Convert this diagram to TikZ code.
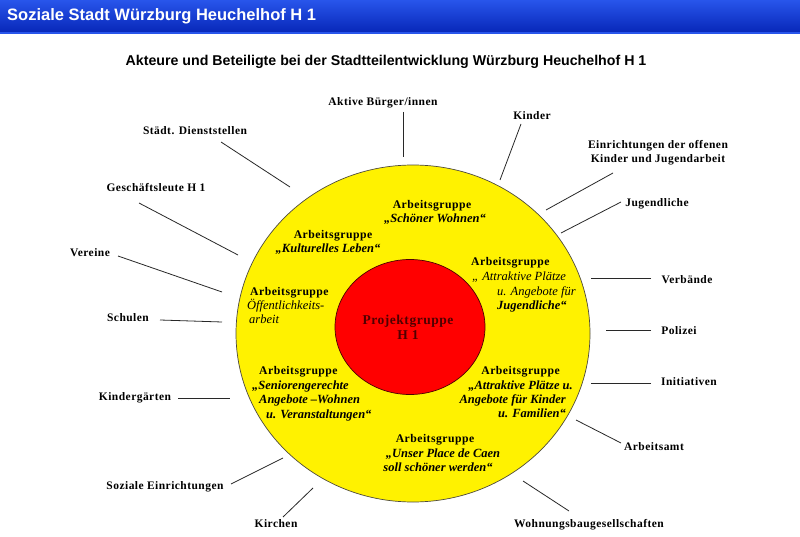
\documentclass[tikz,border=0pt]{standalone}
\usepackage{fontspec}
\usetikzlibrary{shapes.geometric}
\setmainfont{Liberation Serif}
\newfontfamily\arialfont{Liberation Sans}
\newfontfamily\labfont[LetterSpace=4]{Liberation Serif}
\definecolor{bartop}{RGB}{40,85,235}
\definecolor{barbot}{RGB}{8,40,185}
\definecolor{dkred}{RGB}{80,0,0}
\definecolor{spoke}{RGB}{40,40,40}
\tikzset{
  lab/.style={font=\labfont\fontsize{11.5}{13}\selectfont\bfseries, inner sep=0pt, text height=8pt, text depth=2.5pt},
  ag/.style={font=\labfont\fontsize{11.7}{13}\selectfont\bfseries, inner sep=0pt, text height=8pt, text depth=2.5pt},
  agbi/.style={font=\fontsize{12.5}{14}\selectfont\bfseries\itshape, inner sep=0pt, text height=8pt, text depth=2.5pt},
  agi/.style={font=\fontsize{12.5}{14}\selectfont\itshape, inner sep=0pt, text height=8pt, text depth=2.5pt},
  pg/.style={font=\labfont\fontsize{13.5}{15}\selectfont\bfseries, text=dkred, inner sep=0pt, text height=8pt, text depth=2.5pt},
  spokeline/.style={draw=spoke, line width=0.8pt}
}
\begin{document}
\begin{tikzpicture}[x=1pt,y=-1pt]
\useasboundingbox (0,0) rectangle (800,537);
\fill[white] (0,0) rectangle (800,537);
% title bar
\shade[top color=bartop, bottom color=barbot] (0,0) rectangle (800,32);
\fill[bartop] (0,32) rectangle (800,34);
\node[anchor=west, inner sep=0pt, text=white, font=\arialfont\fontsize{16.5}{18}\selectfont\bfseries] (title) at (7,16) {Soziale Stadt Würzburg Heuchelhof H 1};
\node[inner sep=0pt, font=\arialfont\fontsize{14.2}{16}\selectfont\bfseries] (subtitle) at (386,62) {Akteure und Beteiligte bei der Stadtteilentwicklung Würzburg Heuchelhof H 1};
% circles
\node[draw=black!80!yellow, fill=yellow, line width=0.7pt, ellipse, minimum width=354pt, minimum height=337pt, inner sep=0pt] (ring) at (413,333.5) {};
\node[draw=black!70!red, fill=red, line width=0.7pt, ellipse, minimum width=150pt, minimum height=135pt, inner sep=0pt] (proj) at (410,327) {};
% project group text
\node[pg] (pg1) at (408,322) {Projektgruppe};
\node[pg] (pg2) at (408,337) {H 1};
% Schöner Wohnen
\node[ag] (sw1) at (432,206) {Arbeitsgruppe};
\node[agbi] (sw2) at (435,220) {„Schöner Wohnen“};
% Kulturelles Leben
\node[ag] (kl1) at (333,236) {Arbeitsgruppe};
\node[agbi] (kl2) at (328,250) {„Kulturelles Leben“};
% Attraktive Plätze Jugendliche
\node[ag, anchor=west] (aj1) at (471,263) {Arbeitsgruppe};
\node[agi, anchor=west] (aj2) at (472,278) {„ Attraktive Plätze};
\node[agi, anchor=west] (aj3) at (497,293) {u. Angebote für};
\node[agbi, anchor=west] (aj4) at (497,307) {Jugendliche“};
% Öffentlichkeitsarbeit
\node[ag, anchor=west] (oa1) at (250,293) {Arbeitsgruppe};
\node[agi, anchor=west] (oa2) at (247,307) {Öffentlichkeits-};
\node[agi, anchor=west] (oa3) at (249,321) {arbeit};
% Seniorengerechte
\node[ag, anchor=west] (sa1) at (259,372) {Arbeitsgruppe};
\node[agbi, anchor=west] (sa2) at (252,387) {„Seniorengerechte};
\node[agbi, anchor=west] (sa3) at (259,401) {Angebote –Wohnen};
\node[agbi, anchor=west] (sa4) at (266,416) {u. Veranstaltungen“};
% Attraktive Plätze Kinder
\node[ag, anchor=east] (ak1) at (560,372) {Arbeitsgruppe};
\node[agbi, anchor=east] (ak2) at (573,387) {„Attraktive Plätze u.};
\node[agbi, anchor=east] (ak3) at (566,401) {Angebote für Kinder};
\node[agbi, anchor=east] (ak4) at (566,415) {u. Familien“};
% Place de Caen
\node[ag] (pc1) at (435,440) {Arbeitsgruppe};
\node[agbi] (pc2) at (443,455) {„Unser Place de Caen};
\node[agbi] (pc3) at (438,469) {soll schöner werden“};
% outer labels
\node[lab] (l1) at (383,103) {Aktive Bürger/innen};
\node[lab] (l2) at (532,117) {Kinder};
\node[lab] (l3a) at (658,146) {Einrichtungen der offenen};
\node[lab] (l3b) at (658,160) {Kinder und Jugendarbeit};
\node[lab] (l4) at (657,204) {Jugendliche};
\node[lab] (l5) at (687,281) {Verbände};
\node[lab] (l6) at (679,332) {Polizei};
\node[lab] (l7) at (689,383) {Initiativen};
\node[lab] (l8) at (654,448) {Arbeitsamt};
\node[lab] (l9) at (589,525) {Wohnungsbaugesellschaften};
\node[lab] (l10) at (276,525) {Kirchen};
\node[lab] (l11) at (165,487) {Soziale Einrichtungen};
\node[lab] (l12) at (135,398) {Kindergärten};
\node[lab] (l13) at (128,319) {Schulen};
\node[lab] (l14) at (90,254) {Vereine};
\node[lab] (l15) at (156,189) {Geschäftsleute H 1};
\node[lab] (l16) at (195,132) {Städt. Dienststellen};
% spoke end points
\coordinate (a1) at (403,112);  \coordinate (b1) at (403,157);
\coordinate (a2) at (521,124);  \coordinate (b2) at (500,180);
\coordinate (a3) at (613,173);  \coordinate (b3) at (546,210);
\coordinate (a4) at (621,202);  \coordinate (b4) at (561,233);
\coordinate (a5) at (651,278);  \coordinate (b5) at (591,278);
\coordinate (a6) at (651,330);  \coordinate (b6) at (606,330);
\coordinate (a7) at (651,383);  \coordinate (b7) at (591,383);
\coordinate (a8) at (621,443);  \coordinate (b8) at (576,420);
\coordinate (a9) at (569,511);  \coordinate (b9) at (523,481);
\coordinate (a10) at (283,517); \coordinate (b10) at (313,488);
\coordinate (a11) at (231,484); \coordinate (b11) at (283,458);
\coordinate (a12) at (178,398); \coordinate (b12) at (230,398);
\coordinate (a13) at (160,320); \coordinate (b13) at (222,322);
\coordinate (a14) at (118,256); \coordinate (b14) at (222,292);
\coordinate (a15) at (139,203); \coordinate (b15) at (238,255);
\coordinate (a16) at (221,142); \coordinate (b16) at (290,187);
\foreach \i in {1,...,16} { \draw[spokeline] (a\i) -- (b\i); }
\end{tikzpicture}
\end{document}
